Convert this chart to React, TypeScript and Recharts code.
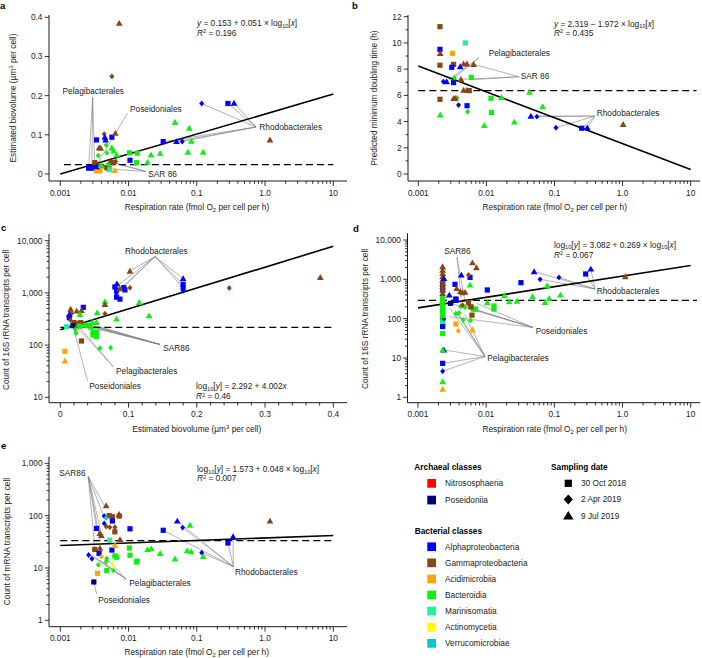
import React from 'react';
import { ScatterChart, Scatter, XAxis, YAxis, ReferenceLine, ReferenceDot } from 'recharts';

const FONT = '"Liberation Sans", Arial, Helvetica, sans-serif';
const FS = 8.3;
const TXT = '#222';

// ---- classes / legend ----
const ARCHAEAL_CLASSES = ['Nitrososphaeria', 'Poseidoniia'];
const BACTERIAL_CLASSES = ['Alphaproteobacteria', 'Gammaproteobacteria', 'Acidimicrobiia', 'Bacteroidia', 'Marinisomatia', 'Actinomycetia', 'Verrucomicrobiae'];
// index: 0 Nitrososphaeria, 1 Poseidoniia, 2 Alpha, 3 Gamma, 4 Acidimicrobiia, 5 Bacteroidia, 6 Marinisomatia, 7 Actinomycetia, 8 Verrucomicrobiae
const CLASS_COLORS = ['#ff0000', '#000080', '#0000ff', '#8b4513', '#ffa500', '#11ee11', '#22f09a', '#ffff00', '#00c8d2'];
const SAMPLING_DATES = ['30 Oct 2018', '2 Apr 2019', '9 Jul 2019'];

// ---- ticks ----
const RESP_TICKS = [0.001, 0.01, 0.1, 1, 10];
const RESP_LABELS = ['0.001', '0.01', '0.1', '1.0', '10'];
const BIOVOL_TICKS = [0, 0.1, 0.2, 0.3, 0.4];
const BIOVOL_LABELS = ['0', '0.1', '0.2', '0.3', '0.4'];
const BIOVOL_MINOR = [0.02, 0.04, 0.06, 0.08, 0.12, 0.14, 0.16, 0.18, 0.22, 0.24, 0.26, 0.28, 0.32, 0.34, 0.36, 0.38];
const DOUBLING_TICKS = [0, 2, 4, 6, 8, 10, 12];
const DOUBLING_LABELS = ['0', '2', '4', '6', '8', '10', '12'];
const DOUBLING_MINOR = [1, 3, 5, 7, 9, 11];
const COUNT16_C_TICKS = [10, 100, 1000, 10000];
const COUNT16_C_LABELS = ['10', '100', '1,000', '10,000'];
const COUNT16_D_TICKS = [1, 10, 100, 1000, 10000];
const COUNT16_D_LABELS = ['1', '10', '100', '1,000', '10,000'];
const MRNA_TICKS = [1, 10, 100, 1000];
const MRNA_LABELS = ['1', '10', '100', '1,000'];

// ---- data rows: [x, y, classIndex, dateIndex(0 square,1 diamond,2 triangle)] ----
type Row = [number, number, number, number];

const PANEL_A: Row[] = [
  [0.0073, 0.385, 3, 2], [0.0057, 0.249, 3, 1], [0.118, 0.18, 2, 1], [0.286, 0.18, 2, 0], [0.351, 0.181, 2, 2],
  [0.048, 0.132, 5, 2], [0.0777, 0.117, 5, 2], [0.083, 0.084, 5, 2], [0.074, 0.056, 5, 2], [0.124, 0.056, 5, 2],
  [0.0322, 0.0826, 2, 0], [0.0505, 0.083, 2, 2], [0.0612, 0.083, 2, 1], [1.18, 0.087, 3, 2],
  [0.0103, 0.054, 5, 0], [0.0134, 0.053, 5, 0], [0.0105, 0.035, 2, 0], [0.0131, 0.029, 5, 0],
  [0.0213, 0.049, 5, 2], [0.029, 0.053, 5, 2], [0.019, 0.03, 5, 2],
  [0.0034, 0.087, 2, 0], [0.0057, 0.094, 2, 0], [0.0045, 0.094, 2, 2], [0.0046, 0.087, 2, 2],
  [0.0044, 0.102, 3, 1], [0.0064, 0.104, 3, 2], [0.0037, 0.067, 3, 2], [0.0039, 0.066, 3, 2],
  [0.0047, 0.074, 5, 1], [0.0036, 0.047, 5, 1], [0.0048, 0.054, 5, 1], [0.0057, 0.067, 5, 2],
  [0.0061, 0.059, 5, 2], [0.0067, 0.049, 5, 2], [0.0058, 0.062, 5, 1],
  [0.0026, 0.015, 2, 0], [0.0029, 0.015, 2, 0], [0.0032, 0.016, 2, 0], [0.0028, 0.017, 2, 1], [0.0034, 0.019, 2, 2],
  [0.0033, 0.019, 1, 0],
  [0.0032, 0.029, 3, 0], [0.0035, 0.024, 3, 1], [0.0042, 0.02, 3, 1], [0.0048, 0.016, 3, 0], [0.0052, 0.013, 3, 0],
  [0.0055, 0.03, 3, 0], [0.006, 0.029, 3, 0], [0.0065, 0.032, 3, 1], [0.005, 0.025, 5, 1], [0.004, 0.022, 5, 2],
  [0.0034, 0.008, 4, 0], [0.0038, 0.008, 4, 0], [0.0063, 0.009, 4, 2], [0.0053, 0.011, 6, 0],
];

const PANEL_B: Row[] = [
  [0.00208, 11.24, 3, 0], [0.00208, 9.51, 2, 0], [0.0021, 9.2, 3, 2], [0.00319, 9.2, 4, 0], [0.0049, 10.0, 6, 0],
  [0.00208, 8.3, 3, 0], [0.0033, 8.36, 3, 0], [0.0031, 8.14, 2, 0], [0.00413, 8.19, 2, 2], [0.00463, 8.4, 3, 2],
  [0.00518, 8.4, 3, 2], [0.0065, 8.37, 3, 2], [0.00233, 7.05, 2, 1], [0.0026, 7.05, 2, 2], [0.0033, 6.97, 2, 0],
  [0.00338, 7.35, 5, 1], [0.00424, 7.22, 3, 2], [0.006, 7.37, 5, 0], [0.00463, 6.4, 3, 2], [0.00518, 6.4, 3, 2],
  [0.0056, 6.36, 3, 0], [0.00208, 5.7, 3, 0], [0.0033, 5.77, 3, 2], [0.0035, 5.77, 3, 2], [0.0037, 5.8, 5, 1],
  [0.0039, 5.26, 2, 1], [0.0052, 5.21, 2, 0], [0.0053, 4.75, 5, 1], [0.0021, 4.5, 5, 2], [0.01167, 5.77, 5, 0],
  [0.0167, 5.85, 5, 2], [0.0119, 4.7, 5, 0], [0.0093, 3.71, 5, 2], [0.0257, 3.97, 5, 2], [0.0431, 6.25, 5, 2],
  [0.067, 5.14, 5, 2], [0.045, 4.42, 2, 2], [0.0552, 4.37, 2, 1], [0.105, 3.53, 2, 1], [0.251, 3.49, 2, 0],
  [0.303, 3.53, 2, 2], [1.02, 3.79, 3, 2],
];

const PANEL_C: Row[] = [
  [0.381, 1986, 3, 2], [0.2476, 1240, 3, 1], [0.18, 1880, 2, 2], [0.18, 1450, 2, 0], [0.18, 1250, 2, 0], [0.18, 1100, 2, 1],
  [0.102, 2620, 3, 2], [0.102, 1250, 3, 1], [0.083, 1500, 2, 2], [0.0874, 1200, 3, 2], [0.08, 1300, 2, 0],
  [0.0825, 1130, 2, 0], [0.093, 1260, 2, 0], [0.0947, 1140, 2, 0], [0.082, 1000, 2, 1], [0.0825, 830, 2, 0],
  [0.0874, 760, 2, 0], [0.0654, 680, 5, 2], [0.0654, 600, 3, 2], [0.0654, 400, 3, 1], [0.1157, 660, 5, 2],
  [0.0825, 316, 5, 2], [0.13, 366, 5, 2], [0.054, 418, 5, 2], [0.0151, 490, 3, 2], [0.024, 450, 3, 2],
  [0.031, 460, 3, 2], [0.0337, 529, 2, 0], [0.0166, 405, 3, 1], [0.0132, 389, 2, 2], [0.0132, 335, 2, 0],
  [0.0288, 389, 5, 2], [0.015, 300, 3, 1], [0.02, 270, 3, 0], [0.025, 260, 3, 0], [0.03, 270, 3, 0],
  [0.0185, 235, 1, 0], [0.028, 230, 5, 0], [0.0093, 225, 6, 0], [0.047, 273, 5, 2], [0.053, 273, 5, 2],
  [0.048, 176, 5, 0], [0.053, 176, 5, 0], [0.048, 156, 5, 0], [0.053, 145, 5, 0], [0.023, 168, 5, 1],
  [0.058, 87, 5, 1], [0.0737, 89, 5, 1], [0.031, 120, 3, 0], [0.0068, 76, 4, 0], [0.0068, 50, 4, 2],
  [0.04, 240, 5, 0], [0.045, 220, 5, 2], [0.035, 240, 5, 2], [0.022, 200, 5, 1],
];

const PANEL_D: Row[] = [
  [0.0023, 2100, 3, 2], [0.0023, 1720, 3, 2], [0.0023, 1420, 3, 2], [0.0023, 1170, 3, 2], [0.0023, 965, 3, 2],
  [0.0023, 795, 3, 2], [0.0023, 655, 3, 2], [0.0023, 540, 3, 2], [0.0023, 440, 3, 2], [0.0024, 1060, 2, 2],
  [0.0023, 720, 2, 0], [0.0023, 535, 2, 0],
  [0.0023, 330, 5, 0], [0.0023, 270, 5, 0], [0.0023, 230, 5, 0], [0.0023, 200, 5, 0], [0.0023, 170, 5, 0],
  [0.0023, 150, 5, 0], [0.0023, 130, 5, 0], [0.0023, 110, 5, 0], [0.0023, 95, 5, 0], [0.0023, 80, 5, 0],
  [0.0023, 65, 5, 0], [0.0023, 42, 5, 0], [0.0023, 300, 5, 2], [0.0023, 250, 5, 2], [0.0023, 190, 5, 2],
  [0.0023, 140, 5, 2], [0.0023, 120, 5, 2], [0.0023, 76, 6, 0], [0.0023, 63, 2, 0], [0.0023, 7.3, 2, 0],
  [0.0024, 16, 2, 2], [0.0023, 16, 5, 2], [0.0023, 4.6, 2, 1], [0.0023, 2.5, 5, 2], [0.0023, 1.6, 4, 2],
  [0.0024, 100, 2, 1],
  [0.00349, 746, 2, 0], [0.00288, 400, 2, 2], [0.00432, 1288, 2, 2], [0.0058, 1120, 2, 0], [0.0063, 2650, 3, 2],
  [0.0072, 1980, 3, 2], [0.0037, 590, 3, 2], [0.0042, 490, 3, 2], [0.0045, 460, 3, 2], [0.0055, 1290, 3, 1],
  [0.0049, 470, 3, 2], [0.0104, 536, 2, 0], [0.0324, 822, 2, 0], [0.0505, 1566, 2, 2], [0.0618, 1000, 2, 1],
  [0.117, 1120, 2, 1], [0.288, 1368, 2, 0], [0.343, 1830, 2, 2], [1.1, 1170, 3, 2],
  [0.0104, 255, 5, 2], [0.0185, 384, 5, 2], [0.0218, 270, 5, 2], [0.0284, 280, 5, 2], [0.048, 364, 5, 2],
  [0.084, 330, 5, 2], [0.073, 260, 5, 2], [0.123, 400, 5, 2], [0.0786, 690, 5, 2],
  [0.013, 210, 5, 0], [0.013, 175, 5, 0], [0.0058, 720, 5, 2], [0.0065, 175, 5, 0], [0.007, 175, 5, 0],
  [0.0036, 132, 5, 1], [0.0046, 93, 5, 1], [0.0059, 90, 5, 1], [0.0049, 195, 5, 1], [0.004, 140, 5, 1], [0.0042, 205, 5, 1],
  [0.0036, 73, 4, 0], [0.0039, 49, 4, 1], [0.0063, 52, 4, 2],
  [0.0055, 255, 3, 0], [0.0062, 123, 3, 0], [0.006, 200, 3, 0], [0.0055, 240, 3, 1], [0.0045, 220, 3, 1],
  [0.003, 245, 1, 0], [0.0036, 316, 1, 0], [0.0036, 300, 2, 0],
];

const PANEL_E: Row[] = [
  [1.18, 79, 3, 2], [0.0518, 79, 2, 2], [0.0794, 66, 5, 2], [0.062, 59, 2, 1], [0.0322, 52.5, 2, 0],
  [0.0105, 56, 2, 0], [0.34, 39.7, 2, 2], [0.286, 30, 2, 0], [0.118, 19.6, 2, 1], [0.072, 21.5, 5, 2],
  [0.083, 20.5, 5, 2], [0.124, 16.6, 5, 2], [0.048, 14.9, 5, 2], [0.019, 22.6, 5, 2], [0.0216, 23.3, 5, 2],
  [0.029, 19, 5, 2], [0.0103, 24, 5, 0], [0.0105, 17.5, 5, 0], [0.0134, 13.5, 5, 0], [0.013, 13, 5, 0],
  [0.0057, 22, 2, 0], [0.0047, 155, 3, 2], [0.0044, 98, 2, 1], [0.0047, 91, 8, 1], [0.0052, 100, 3, 0],
  [0.0058, 95, 3, 0], [0.0073, 98, 3, 0], [0.0073, 106, 3, 2], [0.0058, 79, 2, 0], [0.0044, 71, 2, 1],
  [0.0034, 57, 2, 0], [0.0047, 62, 3, 1], [0.0053, 60, 3, 1], [0.0063, 60, 3, 1], [0.0063, 49, 3, 0],
  [0.0038, 46, 3, 2], [0.004, 42, 3, 2], [0.0075, 35, 3, 2], [0.0053, 34, 6, 0], [0.0063, 27, 4, 2],
  [0.0032, 22.6, 3, 0], [0.0026, 17.7, 2, 1], [0.0029, 15, 2, 1], [0.0037, 19, 2, 0], [0.0038, 24, 3, 2],
  [0.004, 16.5, 4, 1], [0.0036, 11.5, 5, 1], [0.0048, 15, 5, 1], [0.0047, 13.3, 5, 1], [0.0063, 17, 5, 0],
  [0.0067, 16, 5, 0], [0.006, 8.9, 5, 1], [0.0048, 8.9, 5, 0], [0.0058, 11.5, 7, 1], [0.0035, 7.9, 4, 0],
  [0.0031, 5.4, 1, 0],
];

// ---- regression lines and reference (median) lines: [[x1,y1],[x2,y2]] ----
const FIT_A = [[0.001, 0.0], [10, 0.204]];
const FIT_B = [[0.001, 8.235], [10, 0.347]];
const FIT_C = [[0, 196], [0.4, 7816]];
const FIT_D = [[0.001, 188], [10, 2244]];
const FIT_E = [[0.001, 26.9], [10, 41.8]];
const DASH_A = [[0.00113, 0.024], [10, 0.024]];
const DASH_B = [[0.001, 6.36], [12.2, 6.36]];
const DASH_C = [[0, 219], [0.4, 219]];
const DASH_D = [[0.001, 292], [12.4, 292]];
const DASH_E = [[0.001, 33.3], [10, 33.3]];

// ---- annotations ----
type Ann = { text: string; at: [number, number]; from: [number, number]; to: [number, number][] };
const ANN_A: Ann[] = [
  { text: 'Pelagibacterales', at: [0.00108, 0.2042], from: [0.00298, 0.1966], to: [[0.0026, 0.015], [0.0029, 0.015], [0.0032, 0.016]] },
  { text: 'Poseidoniales', at: [0.0105, 0.1595], from: [0.00966, 0.1557], to: [[0.0033, 0.019]] },
  { text: 'Rhodobacterales', at: [0.824, 0.1115], from: [0.737, 0.12], to: [[0.118, 0.18], [0.286, 0.18], [0.351, 0.181], [0.0322, 0.0826], [0.0505, 0.083], [0.0612, 0.083]] },
  { text: 'SAR 86', at: [0.01946, -0.0077], from: [0.018, 0.0064], to: [[0.0055, 0.03], [0.006, 0.029], [0.0052, 0.013]] },
];
const ANN_B: Ann[] = [
  { text: 'Pelagibacterales', at: [0.0108, 8.98], from: [0.00779, 8.85], to: [[0.0026, 7.05], [0.00338, 7.35]] },
  { text: 'SAR 86', at: [0.0319, 7.25], from: [0.0304, 7.42], to: [[0.0065, 8.37], [0.00424, 7.22], [0.0062, 7.2]] },
  { text: 'Rhodobacterales', at: [0.417, 4.45], from: [0.393, 4.42], to: [[0.045, 4.42], [0.0552, 4.37], [0.105, 3.53], [0.251, 3.49], [0.303, 3.53]] },
];
const ANN_C: Ann[] = [
  { text: 'Rhodobacterales', at: [0.0948, 5556], from: [0.1388, 4977], to: [[0.102, 2620], [0.085, 1410], [0.0899, 1260], [0.0947, 1375], [0.18, 1880], [0.18, 1450], [0.18, 1250]] },
  { text: 'SAR86', at: [0.1509, 76.1], from: [0.1461, 102.7], to: [[0.0249, 261], [0.0298, 243], [0.0352, 250], [0.0425, 243], [0.0498, 235], [0.0571, 225]] },
  { text: 'Pelagibacterales', at: [0.0816, 28.3], from: [0.0777, 38.5], to: [[0.022, 240], [0.027, 230]] },
  { text: 'Poseidoniales', at: [0.0425, 14.6], from: [0.0399, 20.5], to: [[0.0185, 235]] },
];
const ANN_D: Ann[] = [
  { text: 'SAR86', at: [0.00243, 4406], from: [0.00373, 3697], to: [[0.0043, 330], [0.0049, 270]] },
  { text: 'Rhodobacterales', at: [0.418, 424], from: [0.395, 567], to: [[0.0505, 1566], [0.0618, 1000], [0.117, 1120], [0.288, 1368], [0.343, 1830]] },
  { text: 'Poseidoniales', at: [0.0533, 40.7], from: [0.0486, 59.6], to: [[0.00302, 245], [0.00413, 222], [0.00548, 194], [0.0073, 245], [0.00295, 112]] },
  { text: 'Pelagibacterales', at: [0.0104, 8.24], from: [0.00961, 10.9], to: [[0.0024, 16], [0.0023, 7.3], [0.0023, 4.6], [0.00295, 183], [0.00349, 166], [0.0039, 137], [0.00489, 124]] },
];
const ANN_E: Ann[] = [
  { text: 'SAR86', at: [0.000967, 580], from: [0.00257, 560], to: [[0.00451, 148.6], [0.00427, 103], [0.00341, 57.3], [0.00403, 42.7], [0.00381, 34.3], [0.00322, 22.1]] },
  { text: 'Pelagibacterales', at: [0.01026, 4.58], from: [0.00918, 6.15], to: [[0.00288, 17.7], [0.00322, 15.3], [0.00381, 14.2], [0.00451, 16.5]] },
  { text: 'Poseidoniales', at: [0.0036, 2.14], from: [0.00341, 3.18], to: [[0.0031, 5.4]] },
  { text: 'Rhodobacterales', at: [0.363, 7.43], from: [0.343, 10.6], to: [[0.0518, 79], [0.062, 59], [0.0322, 52.5], [0.118, 19.6], [0.286, 30], [0.34, 39.7]] },
];

// ---- helpers ----
function logMinor(majors: number[]) {
  const out: number[] = [];
  for (let i = 0; i < majors.length - 1; i++) for (let k = 2; k <= 9; k++) out.push(majors[i] * k);
  return out;
}

const X_TS = 5;
const X_TM = 3;
const Y_TS = 4;
const Y_TM = 2;

function makeTick(side: 'x' | 'y', majors: number[], labels: string[]) {
  return function Tick(props: any) {
    const { x, y, payload } = props;
    const v = Number(payload?.value);
    const idx = majors.findIndex((m) => Math.abs(m - v) <= Math.abs(m) * 1e-6 + 1e-12);
    const major = idx >= 0;
    if (side === 'x') {
      const ay = y - X_TS - X_TM;
      return (
        <g>
          <line x1={x} x2={x} y1={ay} y2={ay + (major ? 5 : 2.8)} stroke="#000" strokeWidth={0.8} />
          {major && (
            <text x={x} y={ay + 14.6} textAnchor="middle" fontSize={FS} fontFamily={FONT} fill={TXT}>{labels[idx]}</text>
          )}
        </g>
      );
    }
    const ax = x + Y_TS + Y_TM;
    return (
      <g>
        <line x1={ax} x2={ax - (major ? 4.3 : 2.5)} y1={y} y2={y} stroke="#000" strokeWidth={0.8} />
        {major && (
          <text x={ax - 6.5} y={y + 3} textAnchor="end" fontSize={FS} fontFamily={FONT} fill={TXT}>{labels[idx]}</text>
        )}
      </g>
    );
  };
}

const colorOf = (p: any) => CLASS_COLORS[(p.payload && p.payload.c) ?? p.c ?? 0];
const SHAPES = [
  (p: any) => <rect x={p.cx - 2.6} y={p.cy - 2.6} width={5.2} height={5.2} fill={colorOf(p)} />,
  (p: any) => (
    <polygon points={`${p.cx},${p.cy - 2.9} ${p.cx + 2.5},${p.cy} ${p.cx},${p.cy + 2.9} ${p.cx - 2.5},${p.cy}`} fill={colorOf(p)} />
  ),
  (p: any) => (
    <polygon points={`${p.cx},${p.cy - 3.3} ${p.cx + 3.4},${p.cy + 2.6} ${p.cx - 3.4},${p.cy + 2.6}`} fill={colorOf(p)} />
  ),
];

type Box = { l: number; t: number; w: number; h: number };
type Plot = { l: number; t: number; r: number; b: number };
type PanelCfg = {
  id: string;
  box: Box;
  plot: Plot;
  xLog: boolean;
  xDomain: [number, number];
  xMajor: number[];
  xLabels: string[];
  xMinor: number[];
  yLog: boolean;
  yDomain: [number, number];
  yMajor: number[];
  yLabels: string[];
  yMinor: number[];
  rows: Row[];
  fit: number[][];
  dash: number[][];
  ann: Ann[];
};

const PANELS: PanelCfg[] = [
  {
    id: 'a', box: { l: 0, t: 0, w: 350, h: 220 }, plot: { l: 49, t: 15, r: 347, b: 181 },
    xLog: true, xDomain: [0.000683, 15.88], xMajor: RESP_TICKS, xLabels: RESP_LABELS, xMinor: logMinor(RESP_TICKS),
    yLog: false, yDomain: [-0.01787, 0.4059], yMajor: BIOVOL_TICKS, yLabels: BIOVOL_LABELS, yMinor: [],
    rows: PANEL_A, fit: FIT_A, dash: DASH_A, ann: ANN_A,
  },
  {
    id: 'b', box: { l: 350, t: 0, w: 352, h: 220 }, plot: { l: 408, t: 15, r: 700, b: 181 },
    xLog: true, xDomain: [0.000706, 13.7], xMajor: RESP_TICKS, xLabels: RESP_LABELS, xMinor: logMinor(RESP_TICKS),
    yLog: false, yDomain: [-0.534, 12.13], yMajor: DOUBLING_TICKS, yLabels: DOUBLING_LABELS, yMinor: DOUBLING_MINOR,
    rows: PANEL_B, fit: FIT_B, dash: DASH_B, ann: ANN_B,
  },
  {
    id: 'c', box: { l: 0, t: 220, w: 350, h: 220 }, plot: { l: 49, t: 234, r: 347, b: 402.7 },
    xLog: false, xDomain: [-0.01656, 0.4201], xMajor: BIOVOL_TICKS, xLabels: BIOVOL_LABELS, xMinor: BIOVOL_MINOR,
    yLog: true, yDomain: [7.88, 13440], yMajor: COUNT16_C_TICKS, yLabels: COUNT16_C_LABELS, yMinor: logMinor(COUNT16_C_TICKS),
    rows: PANEL_C, fit: FIT_C, dash: DASH_C, ann: ANN_C,
  },
  {
    id: 'd', box: { l: 350, t: 220, w: 352, h: 220 }, plot: { l: 407.5, t: 233.3, r: 700, b: 402.7 },
    xLog: true, xDomain: [0.000702, 13.7], xMajor: RESP_TICKS, xLabels: RESP_LABELS, xMinor: logMinor(RESP_TICKS),
    yLog: true, yDomain: [0.729, 14806], yMajor: COUNT16_D_TICKS, yLabels: COUNT16_D_LABELS, yMinor: logMinor(COUNT16_D_TICKS),
    rows: PANEL_D, fit: FIT_D, dash: DASH_D, ann: ANN_D,
  },
  {
    id: 'e', box: { l: 0, t: 440, w: 350, h: 218 }, plot: { l: 49, t: 456.7, r: 347, b: 626.7 },
    xLog: true, xDomain: [0.000683, 15.88], xMajor: RESP_TICKS, xLabels: RESP_LABELS, xMinor: logMinor(RESP_TICKS),
    yLog: true, yDomain: [0.7546, 1337], yMajor: MRNA_TICKS, yLabels: MRNA_LABELS, yMinor: logMinor(MRNA_TICKS),
    rows: PANEL_E, fit: FIT_E, dash: DASH_E, ann: ANN_E,
  },
];

function Panel({ cfg }: { cfg: PanelCfg }) {
  const { box, plot } = cfg;
  const yAxisW = plot.l - box.l;
  const xAxisH = box.t + box.h - plot.b;
  const margin = { top: plot.t - box.t, right: box.l + box.w - plot.r, left: 0, bottom: 0 };
  const pts = cfg.rows.map(([x, y, c, s]) => ({ x, y, c, s }));
  const xTicks = [...cfg.xMajor, ...cfg.xMinor].sort((a, b) => a - b);
  const yTicks = [...cfg.yMajor, ...cfg.yMinor].sort((a, b) => a - b);
  return (
    <div style={{ position: 'absolute', left: box.l, top: box.t, width: box.w, height: box.h }}>
      <ScatterChart width={box.w} height={box.h} margin={margin}>
        <XAxis
          type="number" dataKey="x" scale={cfg.xLog ? 'log' : 'linear'} domain={cfg.xDomain} allowDataOverflow
          ticks={xTicks} interval={0} tickLine={false} tickSize={X_TS} tickMargin={X_TM} height={xAxisH}
          axisLine={{ stroke: '#000', strokeWidth: 0.9 }} tick={makeTick('x', cfg.xMajor, cfg.xLabels)}
        />
        <YAxis
          type="number" dataKey="y" scale={cfg.yLog ? 'log' : 'linear'} domain={cfg.yDomain} allowDataOverflow
          ticks={yTicks} interval={0} tickLine={false} tickSize={Y_TS} tickMargin={Y_TM} width={yAxisW}
          axisLine={{ stroke: '#000', strokeWidth: 0.9 }} tick={makeTick('y', cfg.yMajor, cfg.yLabels)}
        />
        {cfg.ann.flatMap((a, i) =>
          a.to.map((t, j) => (
            <ReferenceLine
              key={`l${i}-${j}`} ifOverflow="visible" stroke="#808080" strokeWidth={0.6}
              segment={[{ x: a.from[0], y: a.from[1] }, { x: t[0], y: t[1] }]}
            />
          ))
        )}
        {SHAPES.map((fn, k) => (
          <Scatter key={k} data={pts.filter((p) => p.s === k)} shape={fn} isAnimationActive={false} />
        ))}
        <ReferenceLine
          ifOverflow="visible" stroke="#000" strokeWidth={1.4} strokeDasharray="7 4"
          segment={[{ x: cfg.dash[0][0], y: cfg.dash[0][1] }, { x: cfg.dash[1][0], y: cfg.dash[1][1] }]}
        />
        <ReferenceLine
          ifOverflow="visible" stroke="#000" strokeWidth={1.6}
          segment={[{ x: cfg.fit[0][0], y: cfg.fit[0][1] }, { x: cfg.fit[1][0], y: cfg.fit[1][1] }]}
        />
        {cfg.ann.map((a, i) => (
          <ReferenceDot
            key={`t${i}`} x={a.at[0]} y={a.at[1]} r={1} ifOverflow="visible"
            shape={(p: any) => (
              <text x={p.cx} y={p.cy} fontSize={FS} fontFamily={FONT} fill={TXT}>{a.text}</text>
            )}
          />
        ))}
      </ScatterChart>
    </div>
  );
}

const SUB_DY = 1.6;
function Sub({ children }: { children: string }) {
  return <tspan dy={SUB_DY} fontSize={5.6}>{children}</tspan>;
}

function Overlay() {
  const t = { fontSize: FS, fontFamily: FONT, fill: TXT } as const;
  const bold = { fontSize: 9.5, fontFamily: FONT, fill: '#000', fontWeight: 'bold' } as const;
  const respTitle = (x: number, y: number) => (
    <text x={x} y={y} textAnchor="middle" {...t}>
      Respiration rate (fmol O<tspan dy={2} fontSize={6}>2</tspan><tspan dy={-2}> per cell per h)</tspan>
    </text>
  );
  const bioTitle = (x: number, y: number, rot: boolean) => (
    <text x={rot ? 0 : x} y={rot ? 0 : y} transform={rot ? `translate(${x},${y}) rotate(-90)` : undefined} textAnchor="middle" {...t}>
      Estimated biovolume (µm<tspan dy={-3} fontSize={6}>3</tspan><tspan dy={3}> per cell)</tspan>
    </text>
  );
  const vTitle = (x: number, y: number, s: string) => (
    <text x={0} y={0} transform={`translate(${x},${y}) rotate(-90)`} textAnchor="middle" {...t}>{s}</text>
  );
  const r2 = (x: number, y: number, v: string) => (
    <text x={x} y={y} {...t}>
      <tspan fontStyle="italic">R</tspan><tspan dy={-2.6} fontSize={5.6}>2</tspan><tspan dy={2.6}>{` = ${v}`}</tspan>
    </text>
  );
  const legendRowY = (start: number, i: number) => start + i * 16.1;
  return (
    <svg width={702} height={658} style={{ position: 'absolute', left: 0, top: 0, pointerEvents: 'none' }}>
      {/* panel letters */}
      <text x={0} y={8.5} {...bold}>a</text>
      <text x={352} y={8.5} {...bold}>b</text>
      <text x={1} y={230.5} {...bold}>c</text>
      <text x={353} y={231.5} {...bold}>d</text>
      <text x={1} y={448.5} {...bold}>e</text>

      {/* axis titles */}
      {bioTitle(15.5, 98, true)}
      {respTitle(197, 209.7)}
      {vTitle(376.5, 98, 'Predicted minimum doubling time (h)')}
      {respTitle(554.7, 209.7)}
      {vTitle(9.2, 320, 'Count of 16S rRNA transcripts per cell')}
      {bioTitle(196.7, 432.3, false)}
      {vTitle(368.2, 319, 'Count of 16S rRNA transcripts per cell')}
      {respTitle(554.7, 432.3)}
      {vTitle(10.2, 541.5, 'Count of mRNA transcripts per cell')}
      {respTitle(196.7, 654.7)}

      {/* equations */}
      <text x={197} y={26.2} {...t}>
        <tspan fontStyle="italic">y</tspan>{' = 0.153 + 0.051 × log'}<Sub>10</Sub><tspan dy={-SUB_DY}>[</tspan><tspan fontStyle="italic">x</tspan>]
      </text>
      {r2(197, 36, '0.196')}
      <text x={554} y={26.7} {...t}>
        <tspan fontStyle="italic">y</tspan>{' = 2.319 − 1.972 × log'}<Sub>10</Sub><tspan dy={-SUB_DY}>[</tspan><tspan fontStyle="italic">x</tspan>]
      </text>
      {r2(554, 36, '0.435')}
      <text x={196} y={389.4} {...t}>
        {'log'}<Sub>10</Sub><tspan dy={-SUB_DY}>[</tspan><tspan fontStyle="italic">y</tspan>{'] = 2.292 + 4.002'}<tspan fontStyle="italic">x</tspan>
      </text>
      {r2(196, 399.3, '0.46')}
      <text x={554} y={247.7} {...t}>
        {'log'}<Sub>10</Sub><tspan dy={-SUB_DY}>[</tspan><tspan fontStyle="italic">y</tspan>{'] = 3.082 + 0.269 × log'}<Sub>10</Sub><tspan dy={-SUB_DY}>[</tspan><tspan fontStyle="italic">x</tspan>]
      </text>
      {r2(554, 257.8, '0.067')}
      <text x={197} y={472} {...t}>
        {'log'}<Sub>10</Sub><tspan dy={-SUB_DY}>[</tspan><tspan fontStyle="italic">y</tspan>{'] = 1.573 + 0.048 × log'}<Sub>10</Sub><tspan dy={-SUB_DY}>[</tspan><tspan fontStyle="italic">x</tspan>]
      </text>
      {r2(197, 481.3, '0.007')}

      {/* legend */}
      <text x={414.3} y={470.3} {...t} fontWeight="bold" fill="#000">Archaeal classes</text>
      {ARCHAEAL_CLASSES.map((n, i) => {
        const y = legendRowY(483.3, i) + (i === 1 ? 0.6 : 0);
        return (
          <g key={n}>
            <rect x={427.3} y={y - 4.3} width={8.7} height={8.7} fill={CLASS_COLORS[i]} />
            <text x={445} y={y + 3} {...t}>{n}</text>
          </g>
        );
      })}
      <text x={414.7} y={533.7} {...t} fontWeight="bold" fill="#000">Bacterial classes</text>
      {BACTERIAL_CLASSES.map((n, i) => {
        const y = legendRowY(546.7, i);
        return (
          <g key={n}>
            <rect x={427.3} y={y - 4.3} width={8.7} height={8.7} fill={CLASS_COLORS[i + 2]} />
            <text x={445} y={y + 3} {...t}>{n}</text>
          </g>
        );
      })}
      <text x={551} y={470.3} {...t} fontWeight="bold" fill="#000">Sampling date</text>
      {SAMPLING_DATES.map((d, i) => {
        const y = legendRowY(483.3, i);
        const cx = 568.3;
        const sh =
          i === 0 ? <rect x={cx - 3.6} y={y - 3.6} width={7.2} height={7.2} fill="#000" /> :
          i === 1 ? <polygon points={`${cx},${y - 5} ${cx + 4.6},${y} ${cx},${y + 5} ${cx - 4.6},${y}`} fill="#000" /> :
          <polygon points={`${cx},${y - 4.6} ${cx + 5.2},${y + 4} ${cx - 5.2},${y + 4}`} fill="#000" />;
        return (
          <g key={d}>
            {sh}
            <text x={581} y={y + 3} {...t}>{d}</text>
          </g>
        );
      })}
    </svg>
  );
}

export default function App() {
  return (
    <div style={{ position: 'absolute', left: 0, top: 0, width: 702, height: 658, background: '#fff' }}>
      {PANELS.map((p) => <Panel key={p.id} cfg={p} />)}
      <Overlay />
    </div>
  );
}
